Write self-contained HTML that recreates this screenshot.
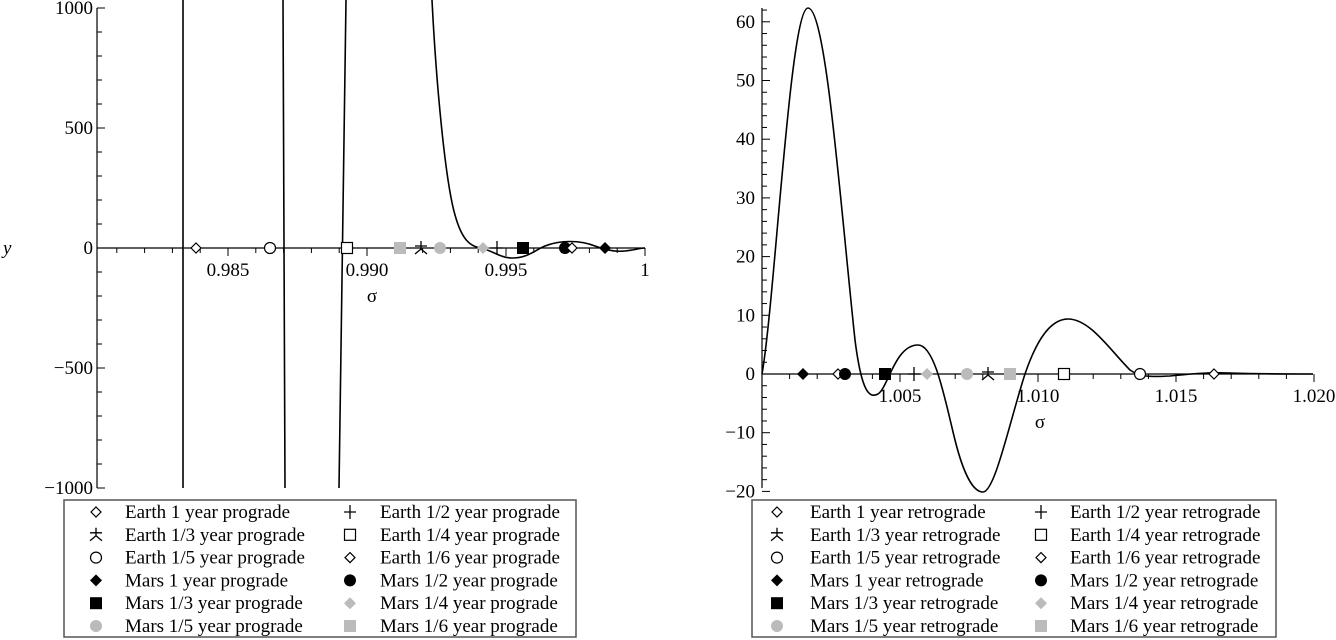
<!DOCTYPE html>
<html><head><meta charset="utf-8"><style>
html,body{margin:0;padding:0;background:#fff}
svg{display:block;font-family:"Liberation Serif",serif}
</style></head><body>
<svg id="s" width="1336" height="640" viewBox="0 0 1336 640" xmlns="http://www.w3.org/2000/svg">
<defs>
<path id="dO" d="M0,-5 L5,0 L0,5 L-5,0Z" fill="#fff" stroke="#000" stroke-width="1.2"/>
<path id="dB" d="M0,-6 L6,0 L0,6 L-6,0Z" fill="#000"/>
<path id="dG" d="M0,-6 L6,0 L0,6 L-6,0Z" fill="#bbb"/>
<rect id="sO" x="-5.5" y="-5.5" width="11" height="11" fill="#fff" stroke="#000" stroke-width="1.2"/>
<rect id="sB" x="-6" y="-6" width="12" height="12" fill="#000"/>
<rect id="sG" x="-6" y="-6" width="12" height="12" fill="#bbb"/>
<circle id="cO" r="5.5" fill="#fff" stroke="#000" stroke-width="1.2"/>
<circle id="cB" r="6" fill="#000"/>
<circle id="cG" r="6" fill="#bbb"/>
<path id="pl" d="M-6,0 H6 M0,-7 V7" stroke="#000" stroke-width="1.3" fill="none"/>
<path id="st" d="M0,-7 L0,1 M0,1 L-6,6 M0,1 L6,6 M-6,-2 L6,-2" stroke="#000" stroke-width="1.3" fill="none"/>
</defs>
<g id="g" font-size="19" fill="#000"></g>
</svg>
<script>
var g=document.getElementById('g'),NS='http://www.w3.org/2000/svg';
function el(t,a,txt){var e=document.createElementNS(NS,t);for(var k in a)e.setAttribute(k,a[k]);if(txt!=null)e.textContent=txt;g.appendChild(e);return e;}
function use(id,x,y){el('use',{href:'#'+id,x:x,y:y});}
function line(x1,y1,x2,y2,w){el('line',{x1:x1,y1:y1,x2:x2,y2:y2,stroke:'#000','stroke-width':w||1});}
// LEFT
var LX=function(s){return 645-(1-s)/0.005*139;};
line(97,248,645,248,1.2);line(97,8,97,488,1.2);
for(var i=0;i<=19;i++){var s=0.981+i*0.001;var x=LX(s);line(x,248,x,(i%5==4)?256:253);}
[['0.985',0.985],['0.990',0.99],['0.995',0.995],['1',1]].forEach(function(t){el('text',{x:LX(t[1]),y:276,'text-anchor':'middle'},t[0]);});
for(var v=-1000;v<=1000;v+=100){var y=248-v*0.24;line(97,y,v%500==0?105:102,y);}
[[1000,8],[500,128],[0,248],[-500,368],[-1000,488]].forEach(function(t){el('text',{x:93,y:t[1]+6,'text-anchor':'end'},t[0]<0?'\u2212'+(-t[0]):''+t[0]);});
el('text',{x:3,y:254,'font-style':'italic'},'y');
el('text',{x:372,y:302,'text-anchor':'middle'},'\u03c3');
el('path',{d:'M183,0 L183,488 M283,0 L285,488 M346,0 L339,488',stroke:'#000','stroke-width':1.6,fill:'none'});
el('path',{d:'M432,0 C436,80 445,180 455,215 C462,240 470,246 480,248 C492,250 500,258 512,258 C528,258 535,250 545,246 C560,240 580,240 595,246 C605,250 615,252 625,251 C635,250 640,248 645,248',stroke:'#000','stroke-width':1.6,fill:'none'});
[['dO',196],['cO',270],['sO',347],['sG',400],['st',421],['cG',440],['dG',483],['pl',497],['sB',523],['cB',565],['dO',572],['dB',605]].forEach(function(m){use(m[0],m[1],248);});
// RIGHT
var RX=function(s){return 762+(s-1)/0.005*138;};var RY=function(v){return 374-v*5.87;};
line(762,374,1313,374,1.2);line(762,8,762,488,1.2);
for(var i=1;i<=20;i++){var x=RX(1+i*0.001);line(x,374,x,(i%5==0)?382:379);}
[['1.005',1.005],['1.010',1.01],['1.015',1.015],['1.020',1.02]].forEach(function(t){el('text',{x:RX(t[1]),y:402,'text-anchor':'middle'},t[0]);});
for(var v=-20;v<=62;v+=2){var y=RY(v);line(762,y,v%10==0?770:767,y);}
for(var v=-20;v<=60;v+=10){el('text',{x:755,y:RY(v)+6,'text-anchor':'end'},v<0?'\u2212'+(-v):''+v);}
el('text',{x:1040,y:428,'text-anchor':'middle'},'\u03c3');
el('path',{d:'M762,374 C775,300 790,8 808,8 C826,8 840,200 855,340 C862,395 870,398 878,394 C888,388 895,345 918,345 C935,345 945,400 955,440 C965,480 975,492 983,492 C995,492 1010,420 1025,374 C1040,330 1055,319 1068,319 C1090,319 1110,350 1130,370 C1140,377 1150,377 1170,376 C1190,374 1210,372 1230,373 C1260,374 1290,374 1313,374',stroke:'#000','stroke-width':1.6,fill:'none'});
[['dB',803],['dO',838],['cB',845],['sB',885],['pl',914],['dG',927],['cG',967],['st',988],['sG',1010],['sO',1064],['cO',1140],['dO',1214]].forEach(function(m){use(m[0],m[1],374);});
// LEGENDS
function legend(x0,w,mx1,tx1,mx2,tx2,suf,tw){
 el('rect',{x:x0,y:500,width:w,height:137,fill:'#fff',stroke:'#555','stroke-width':1.5});
 var rows=[['dO','Earth 1 year  '+suf,'pl','Earth 1/2 year '+suf],['st','Earth 1/3 year '+suf,'sO','Earth 1/4 year '+suf],['cO','Earth 1/5 year '+suf,'dO','Earth 1/6 year '+suf],['dB','Mars 1 year  '+suf,'cB','Mars 1/2 year '+suf],['sB','Mars 1/3 year '+suf,'dG','Mars 1/4 year '+suf],['cG','Mars 1/5 year '+suf,'sG','Mars 1/6 year '+suf]];
 rows.forEach(function(r,i){var y=512+i*22.8;use(r[0],mx1,y);el('text',{x:tx1,y:y+6,'xml:space':'preserve'},r[1]);use(r[2],mx2,y);el('text',{x:tx2,y:y+6},r[3]);});
}
legend(64,512,96,125,350,380,'prograde');
legend(752,524,777,810,1041,1070,'retrograde');
</script>
</body></html>
